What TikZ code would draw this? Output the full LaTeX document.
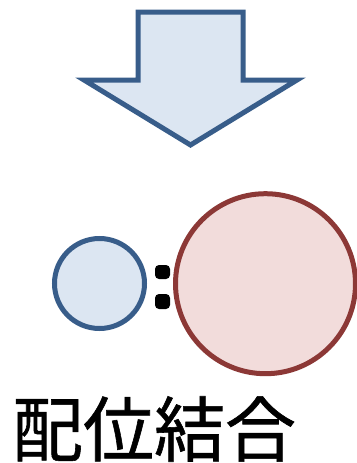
\documentclass[tikz,border=0pt]{standalone}
\usepackage{fontspec}
\usepackage{tikz}
\newfontfamily\cjk[FakeBold=0.8]{Noto Sans CJK JP}
\definecolor{ArrowLine}{HTML}{385D8A}
\definecolor{ArrowFill}{HTML}{DCE6F2}
\definecolor{MetalLine}{HTML}{8C3836}
\definecolor{MetalFill}{HTML}{F2DCDB}
\tikzset{
  ligand/.style={circle, draw=ArrowLine, fill=ArrowFill, line width=5pt, inner sep=0pt, minimum size=#1},
  metal/.style={circle, draw=MetalLine, fill=MetalFill, line width=5pt, inner sep=0pt, minimum size=#1},
  pair/.style={fill=black, rounded corners=4pt}
}
\begin{document}
\begin{tikzpicture}[x=1pt, y=-1pt]
        \useasboundingbox (0,0) rectangle (356,463);
        % big down arrow
        \draw [line width=5pt, draw=ArrowLine, fill=ArrowFill, line join=miter]
            (138,12) -- (243,12) -- (243,80) -- (297,80) -- (190.5,145)
            -- (84,80) -- (138,80) -- cycle;

        \node [ligand=90pt] (lig) at (99.5,283.5) {};
        \node [metal=180pt] (M) at (265.5,283.7) {};

        % lone pair
        \fill [pair] (155,265) rectangle (170,279);
        \fill [pair] (155,294) rectangle (170,309);

        \node [font=\cjk\fontsize{71}{73}\selectfont] (label) at (154,429) {配位結合};
    \end{tikzpicture}
\end{document}
